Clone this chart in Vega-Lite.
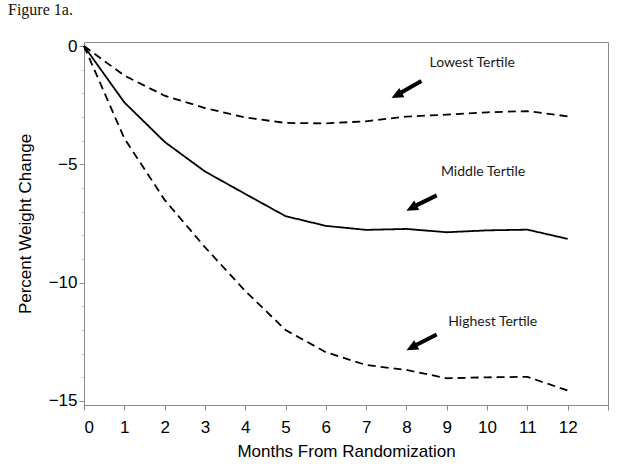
{
  "$schema": "https://vega.github.io/schema/vega-lite/v6.json",
  "width": 524,
  "height": 363,
  "autosize": {"type": "none"},
  "padding": {"left": 84, "top": 42, "right": 16, "bottom": 65},
  "background": "white",
  "title": {"text": "Figure 1a.", "anchor": "start", "frame": "group", "dx": -76, "offset": 19, "font": "Liberation Serif", "fontSize": 16, "fontWeight": "normal", "color": "#111"},
  "config": {
    "view": {"stroke": "#8a8a8a", "strokeWidth": 1},
    "axis": {
      "grid": false,
      "domainColor": "#8a8a8a",
      "tickColor": "#8a8a8a",
      "labelFont": "Liberation Sans",
      "labelFontSize": 17,
      "labelColor": "black",
      "labelOverlap": false,
      "titleFont": "Liberation Sans",
      "titleFontSize": 17,
      "titleFontWeight": "normal",
      "titleColor": "black"
    }
  },
  "datasets": {
    "curves": [
      {"tertile": "Lowest", "month": 0, "change": 0},
      {"tertile": "Lowest", "month": 1, "change": -1.25},
      {"tertile": "Lowest", "month": 2, "change": -2.1},
      {"tertile": "Lowest", "month": 3, "change": -2.62},
      {"tertile": "Lowest", "month": 4, "change": -3.02},
      {"tertile": "Lowest", "month": 5, "change": -3.25},
      {"tertile": "Lowest", "month": 6, "change": -3.27},
      {"tertile": "Lowest", "month": 7, "change": -3.18},
      {"tertile": "Lowest", "month": 8, "change": -2.98},
      {"tertile": "Lowest", "month": 9, "change": -2.9},
      {"tertile": "Lowest", "month": 10, "change": -2.8},
      {"tertile": "Lowest", "month": 11, "change": -2.75},
      {"tertile": "Lowest", "month": 12, "change": -2.97},
      {"tertile": "Middle", "month": 0, "change": 0},
      {"tertile": "Middle", "month": 1, "change": -2.38},
      {"tertile": "Middle", "month": 2, "change": -4.05},
      {"tertile": "Middle", "month": 3, "change": -5.3},
      {"tertile": "Middle", "month": 4, "change": -6.25},
      {"tertile": "Middle", "month": 5, "change": -7.19},
      {"tertile": "Middle", "month": 6, "change": -7.6},
      {"tertile": "Middle", "month": 7, "change": -7.77},
      {"tertile": "Middle", "month": 8, "change": -7.73},
      {"tertile": "Middle", "month": 9, "change": -7.87},
      {"tertile": "Middle", "month": 10, "change": -7.79},
      {"tertile": "Middle", "month": 11, "change": -7.76},
      {"tertile": "Middle", "month": 12, "change": -8.15},
      {"tertile": "Highest", "month": 0, "change": 0},
      {"tertile": "Highest", "month": 1, "change": -3.9},
      {"tertile": "Highest", "month": 2, "change": -6.5},
      {"tertile": "Highest", "month": 3, "change": -8.5},
      {"tertile": "Highest", "month": 4, "change": -10.35},
      {"tertile": "Highest", "month": 5, "change": -12.0},
      {"tertile": "Highest", "month": 6, "change": -12.94},
      {"tertile": "Highest", "month": 7, "change": -13.48},
      {"tertile": "Highest", "month": 8, "change": -13.69},
      {"tertile": "Highest", "month": 9, "change": -14.04},
      {"tertile": "Highest", "month": 10, "change": -14.0},
      {"tertile": "Highest", "month": 11, "change": -13.98},
      {"tertile": "Highest", "month": 12, "change": -14.56}
    ],
    "arrows": [
      {"tertile": "Lowest", "x1": 8.37, "y1": -1.48, "x2": 7.76, "y2": -2.07, "tipx": 7.63, "tipy": -2.2},
      {"tertile": "Middle", "x1": 8.75, "y1": -6.31, "x2": 8.13, "y2": -6.83, "tipx": 8.0, "tipy": -6.96},
      {"tertile": "Highest", "x1": 8.75, "y1": -12.19, "x2": 8.13, "y2": -12.73, "tipx": 8.0, "tipy": -12.86}
    ],
    "labels": [
      {"label": "Lowest Tertile", "x": 9.63, "y": -0.72},
      {"label": "Middle Tertile", "x": 9.9, "y": -5.33},
      {"label": "Highest Tertile", "x": 10.14, "y": -11.67}
    ],
    "origin": [{"x": 0, "y": 0}]
  },
  "layer": [
    {
      "data": {"name": "curves"},
      "mark": {"type": "line", "color": "black", "strokeWidth": 1.8},
      "encoding": {
        "x": {
          "field": "month", "type": "quantitative",
          "scale": {"domain": [0, 13], "nice": false, "zero": false},
          "axis": {
            "title": "Months From Randomization",
            "values": [0, 1, 2, 3, 4, 5, 6, 7, 8, 9, 10, 11, 12, 13],
            "tickCount": 30,
            "format": "d",
            "labelExpr": "datum.value == 13 ? '' : datum.label",
            "labelOverlap": false,
            "tickSize": 5,
            "labelPadding": 9,
            "titlePadding": 8
          }
        },
        "y": {
          "field": "change", "type": "quantitative",
          "scale": {"domain": [-15.17, 0.17], "nice": false, "zero": false},
          "axis": {
            "title": "Percent Weight Change",
            "values": [-15, -14, -13, -12, -11, -10, -9, -8, -7, -6, -5, -4, -3, -2, -1, 0],
            "tickCount": 30,
            "format": "d",
            "labelExpr": "indexof([-15, -10, -5, 0], datum.value) >= 0 ? datum.label : ''",
            "labelOverlap": false,
            "tickSize": {"condition": {"test": "datum.value % 5 == 0", "value": 5}, "value": 3},
            "tickOpacity": {"condition": {"test": "datum.value % 5 == 0", "value": 1}, "value": 0.5},
            "labelPadding": 2,
            "titlePadding": 14
          }
        },
        "detail": {"field": "tertile"},
        "strokeDash": {
          "field": "tertile", "type": "nominal",
          "scale": {"domain": ["Lowest", "Middle", "Highest"], "range": [[8, 5], [1, 0], [8, 5]]},
          "legend": null
        }
      }
    },
    {
      "data": {"name": "arrows"},
      "mark": {"type": "rule", "color": "black", "strokeWidth": 4},
      "encoding": {
        "x": {"field": "x1", "type": "quantitative"},
        "y": {"field": "y1", "type": "quantitative"},
        "x2": {"field": "x2"},
        "y2": {"field": "y2"}
      }
    },
    {
      "data": {"name": "arrows"},
      "mark": {"type": "point", "shape": "M0,0L0.6,1.3L-0.6,1.3Z", "filled": true, "color": "black", "opacity": 1, "size": 320, "angle": 242},
      "encoding": {
        "x": {"field": "tipx", "type": "quantitative"},
        "y": {"field": "tipy", "type": "quantitative"}
      }
    },
    {
      "data": {"name": "origin"},
      "mark": {"type": "point", "shape": "M0,0L0.6,1.3L-0.6,1.3Z", "filled": true, "color": "black", "opacity": 1, "size": 50, "angle": 325},
      "encoding": {
        "x": {"field": "x", "type": "quantitative"},
        "y": {"field": "y", "type": "quantitative"}
      }
    },
    {
      "data": {"name": "labels"},
      "mark": {"type": "text", "font": "Lato", "fontSize": 14, "color": "#1a1a1a", "align": "center", "baseline": "middle"},
      "encoding": {
        "x": {"field": "x", "type": "quantitative"},
        "y": {"field": "y", "type": "quantitative"},
        "text": {"field": "label"}
      }
    }
  ]
}
